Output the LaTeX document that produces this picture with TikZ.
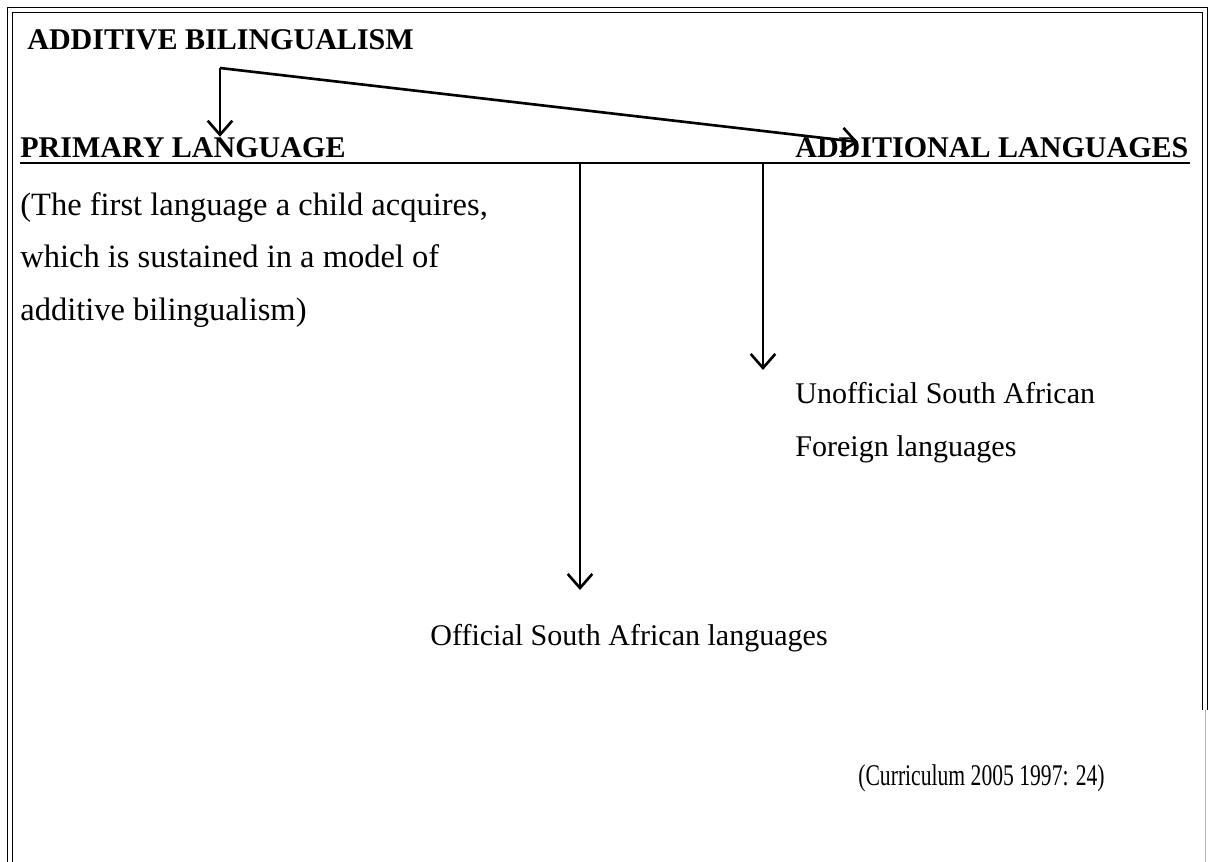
\documentclass[tikz,border=0pt]{standalone}
\usepackage{fontspec}
\setmainfont{Liberation Serif}
\newfontfamily\citefont{Liberation Serif}[FakeStretch=0.72]
\usetikzlibrary{positioning, arrows.meta}

\begin{document}
\begin{tikzpicture}[
        x=0.02cm, y=-0.02cm,
        heading/.style={font=\fontsize{17.1}{20}\selectfont\bfseries, anchor=base west, inner sep=0pt},
        plain/.style={font=\fontsize{17.1}{20}\selectfont, anchor=base west, inner sep=0pt},
        note/.style={font=\fontsize{18.5}{29.9}\selectfont, anchor=north west, inner sep=0pt, align=left},
        link/.style={line width=1.5pt, -{Straight Barb[length=8pt, width=14pt, line width=1.5pt]}},
        rule/.style={line width=1pt}
    ]
    \useasboundingbox (0,0) rectangle (1211,862);

    % Frame (double line, open at the bottom)
    \draw[double, line width=1pt, double distance=1.8pt] (10,862) -- (10,10) -- (1205,10) -- (1205,710);
    \draw[gray!60, line width=0.4pt] (1205,710) -- (1205,862);

    % Headings
    \node[heading] (additive)   at (27,50)   {ADDITIVE BILINGUALISM};
    \node[heading] (primary)    at (20,157)  {PRIMARY LANGUAGE};
    \node[heading] (additional) at (795,157) {ADDITIONAL LANGUAGES};

    % Primary language note
    \node[note] (firstlang) at (20,192) {(The first language a child acquires,\\
        which is sustained in a model of\\
        additive bilingualism)};

    % Language groups
    \node[plain] (unofficial) at (795,403) {Unofficial South African};
    \node[plain] (foreign)    at (795,456) {Foreign languages};
    \node[plain] (official)   at (430,645) {Official South African languages};

    % Source
    \node[plain, font=\fontsize{17.1}{20}\citefont] (source) at (858,785) {(Curriculum 2005 1997: 24)};

    % --------------------------------------------------
    % Connectors
    \coordinate (bend)   at (220,68);
    \coordinate (tip)    at (858,142);
    \coordinate (ruleW)  at (20,163);
    \coordinate (ruleE)  at (1190,163);
    \coordinate (drop1)  at (580,163);
    \coordinate (drop2)  at (763,163);
    \coordinate (land1)  at (580,590);
    \coordinate (land2)  at (763,370);

    \draw[rule] (ruleW) -- (ruleE);
    \draw[link] (bend) -- (bend |- primary.north);
    \draw[link] (bend) -- (tip);
    \draw[link] (drop1) -- (land1);
    \draw[link] (drop2) -- (land2);

\end{tikzpicture}
\end{document}
